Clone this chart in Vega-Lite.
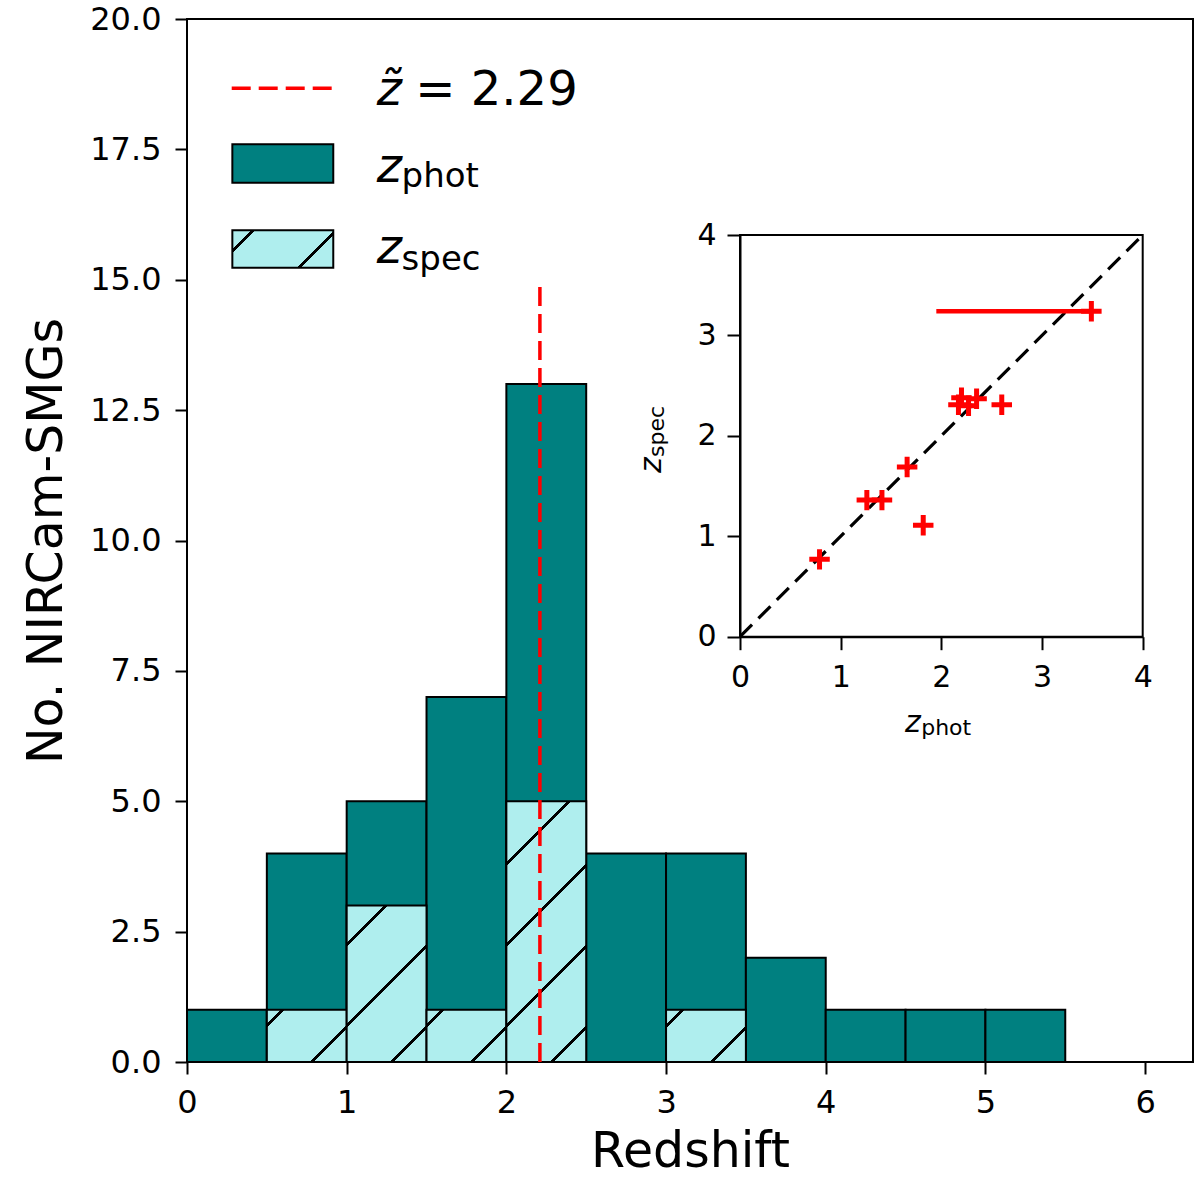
{
  "$schema": "https://vega.github.io/schema/vega-lite/v6.json",
  "autosize": "none",
  "width": 1006,
  "height": 1043,
  "padding": {"left": 187, "top": 19, "right": 7, "bottom": 126},
  "background": "white",
  "config": {
    "font": "DejaVu Sans",
    "view": {"stroke": "black", "strokeWidth": 2},
    "axis": {
      "labelFont": "DejaVu Sans",
      "labelColor": "black",
      "labelFlush": false,
      "labelOverlap": false,
      "tickColor": "black",
      "tickWidth": 2,
      "domainColor": "black",
      "domainWidth": 2,
      "grid": false,
      "titleFont": "DejaVu Sans",
      "titleFontWeight": "normal",
      "titleColor": "black"
    }
  },
  "datasets": {
    "hist": [
      {"lo": 0.0, "hi": 0.5, "phot": 1, "spec": 0},
      {"lo": 0.5, "hi": 1.0, "phot": 4, "spec": 1},
      {"lo": 1.0, "hi": 1.5, "phot": 5, "spec": 3},
      {"lo": 1.5, "hi": 2.0, "phot": 7, "spec": 1},
      {"lo": 2.0, "hi": 2.5, "phot": 13, "spec": 5},
      {"lo": 2.5, "hi": 3.0, "phot": 4, "spec": 0},
      {"lo": 3.0, "hi": 3.5, "phot": 4, "spec": 1},
      {"lo": 3.5, "hi": 4.0, "phot": 2, "spec": 0},
      {"lo": 4.0, "hi": 4.5, "phot": 1, "spec": 0},
      {"lo": 4.5, "hi": 5.0, "phot": 1, "spec": 0},
      {"lo": 5.0, "hi": 5.5, "phot": 1, "spec": 0},
      {"lo": 5.5, "hi": 6.0, "phot": 0, "spec": 0}
    ],
    "zz": [
      {"zphot": 0.79, "zspec": 0.77},
      {"zphot": 1.26, "zspec": 1.36},
      {"zphot": 1.41, "zspec": 1.36},
      {"zphot": 1.66, "zspec": 1.69},
      {"zphot": 1.82, "zspec": 1.11},
      {"zphot": 2.17, "zspec": 2.31},
      {"zphot": 2.20, "zspec": 2.38},
      {"zphot": 2.27, "zspec": 2.30},
      {"zphot": 2.35, "zspec": 2.37},
      {"zphot": 2.60, "zspec": 2.31},
      {"zphot": 3.49, "zspec": 3.24, "zlo": 1.95}
    ],
    "one": [{}]
  },
  "layer": [
    {
      "layer": [
        {
          "data": {"name": "hist"},
          "mark": {"type": "rect", "fill": "#008080", "stroke": "black", "strokeWidth": 2},
          "encoding": {
            "x": {
              "field": "lo", "type": "quantitative",
              "scale": {"domain": [0, 6.3], "nice": false, "zero": false},
              "axis": {
                "values": [0, 1, 2, 3, 4, 5, 6], "format": "d",
                "labelFontSize": 32, "tickSize": 12, "labelPadding": 13, "domain": false,
                "title": "Redshift", "titleFontSize": 49, "titlePadding": 9
              }
            },
            "x2": {"field": "hi"},
            "y": {
              "field": "phot", "type": "quantitative",
              "scale": {"domain": [0, 20], "nice": false},
              "axis": {
                "values": [0, 2.5, 5, 7.5, 10, 12.5, 15, 17.5, 20], "format": ".1f",
                "labelFontSize": 32, "tickSize": 12, "labelPadding": 14, "domain": false,
                "title": "No. NIRCam-SMGs", "titleFontSize": 49, "titlePadding": 18
              }
            },
            "y2": {"datum": 0}
          }
        },
        {
          "data": {"name": "hist"},
          "transform": [{"filter": "datum.spec > 0"}],
          "mark": {"type": "rect", "stroke": "black", "strokeWidth": 2},
          "encoding": {
            "x": {"field": "lo", "type": "quantitative"},
            "x2": {"field": "hi"},
            "y": {"field": "spec", "type": "quantitative"},
            "y2": {"datum": 0},
            "fill": {
              "condition": [
                {
                  "test": "datum.spec == 3",
                  "value": {
                    "gradient": "linear", "x1": 0, "y1": 0, "x2": 0.6116, "y2": 1.1982,
                    "stops": [
                      {"offset": 0, "color": "#afeeee"},
                      {"offset": 0.1584, "color": "#afeeee"},
                      {"offset": 0.1584, "color": "#000000"},
                      {"offset": 0.1754, "color": "#000000"},
                      {"offset": 0.1754, "color": "#afeeee"},
                      {"offset": 0.5012, "color": "#afeeee"},
                      {"offset": 0.5012, "color": "#000000"},
                      {"offset": 0.5182, "color": "#000000"},
                      {"offset": 0.5182, "color": "#afeeee"},
                      {"offset": 0.8440, "color": "#afeeee"},
                      {"offset": 0.8440, "color": "#000000"},
                      {"offset": 0.8610, "color": "#000000"},
                      {"offset": 0.8610, "color": "#afeeee"},
                      {"offset": 1, "color": "#afeeee"}
                    ]
                  }
                },
                {
                  "test": "datum.spec == 5",
                  "value": {
                    "gradient": "linear", "x1": 0, "y1": 0, "x2": 0.3657, "y2": 1.1942,
                    "stops": [
                      {"offset": 0, "color": "#afeeee"},
                      {"offset": 0.1784, "color": "#afeeee"},
                      {"offset": 0.1784, "color": "#000000"},
                      {"offset": 0.1902, "color": "#000000"},
                      {"offset": 0.1902, "color": "#afeeee"},
                      {"offset": 0.4161, "color": "#afeeee"},
                      {"offset": 0.4161, "color": "#000000"},
                      {"offset": 0.4279, "color": "#000000"},
                      {"offset": 0.4279, "color": "#afeeee"},
                      {"offset": 0.6542, "color": "#afeeee"},
                      {"offset": 0.6542, "color": "#000000"},
                      {"offset": 0.6660, "color": "#000000"},
                      {"offset": 0.6660, "color": "#afeeee"},
                      {"offset": 0.8920, "color": "#afeeee"},
                      {"offset": 0.8920, "color": "#000000"},
                      {"offset": 0.9038, "color": "#000000"},
                      {"offset": 0.9038, "color": "#afeeee"},
                      {"offset": 1, "color": "#afeeee"}
                    ]
                  }
                }
              ],
              "value": {
                "gradient": "linear", "x1": 0, "y1": 0, "x2": 1.1588, "y2": 0.7568,
                "stops": [
                  {"offset": 0, "color": "#afeeee"},
                  {"offset": 0.1072, "color": "#afeeee"},
                  {"offset": 0.1072, "color": "#000000"},
                  {"offset": 0.1375, "color": "#000000"},
                  {"offset": 0.1375, "color": "#afeeee"},
                  {"offset": 0.7209, "color": "#afeeee"},
                  {"offset": 0.7209, "color": "#000000"},
                  {"offset": 0.7512, "color": "#000000"},
                  {"offset": 0.7512, "color": "#afeeee"},
                  {"offset": 1, "color": "#afeeee"}
                ]
              }
            }
          }
        },
        {
          "data": {"name": "one"},
          "mark": {"type": "rule", "color": "red", "strokeWidth": 3.5, "strokeDash": [19, 8]},
          "encoding": {
            "x": {"datum": 2.21},
            "y": {"datum": 0},
            "y2": {"datum": 15}
          }
        },
        {
          "data": {"name": "one"},
          "mark": {"type": "rule", "color": "red", "strokeWidth": 3.5, "strokeDash": [19, 8]},
          "encoding": {
            "x": {"datum": 0.28},
            "x2": {"datum": 0.906},
            "y": {"datum": 18.67}
          }
        },
        {
          "data": {"name": "one"},
          "mark": {"type": "rect", "fill": "#008080", "stroke": "black", "strokeWidth": 2},
          "encoding": {
            "x": {"datum": 0.284},
            "x2": {"datum": 0.916},
            "y": {"datum": 17.6},
            "y2": {"datum": 16.86}
          }
        },
        {
          "data": {"name": "one"},
          "mark": {
            "type": "rect", "stroke": "black", "strokeWidth": 2,
            "fill": {
              "gradient": "linear", "x1": 0, "y1": 0, "x2": 1.2054, "y2": 0.4499,
              "stops": [
                {"offset": 0, "color": "#afeeee"},
                {"offset": 0.1370, "color": "#afeeee"},
                {"offset": 0.1370, "color": "#000000"},
                {"offset": 0.1658, "color": "#000000"},
                {"offset": 0.1658, "color": "#afeeee"},
                {"offset": 0.7333, "color": "#afeeee"},
                {"offset": 0.7333, "color": "#000000"},
                {"offset": 0.7621, "color": "#000000"},
                {"offset": 0.7621, "color": "#afeeee"},
                {"offset": 1, "color": "#afeeee"}
              ]
            }
          },
          "encoding": {
            "x": {"datum": 0.284},
            "x2": {"datum": 0.916},
            "y": {"datum": 15.95},
            "y2": {"datum": 15.23}
          }
        },
        {
          "data": {"name": "one"},
          "mark": {"type": "text", "text": "z\u0303", "fontStyle": "italic", "fontSize": 48, "align": "left", "baseline": "alphabetic", "color": "black"},
          "encoding": {"x": {"datum": 1.188}, "y": {"datum": 18.35}}
        },
        {
          "data": {"name": "one"},
          "mark": {"type": "text", "text": "= 2.29", "fontSize": 48, "align": "left", "baseline": "alphabetic", "color": "black"},
          "encoding": {"x": {"datum": 1.43}, "y": {"datum": 18.35}}
        },
        {
          "data": {"name": "one"},
          "mark": {"type": "text", "text": "z", "fontStyle": "italic", "fontSize": 48, "align": "left", "baseline": "alphabetic", "color": "black"},
          "encoding": {"x": {"datum": 1.188}, "y": {"datum": 16.88}}
        },
        {
          "data": {"name": "one"},
          "mark": {"type": "text", "text": "phot", "fontSize": 34, "align": "left", "baseline": "alphabetic", "color": "black"},
          "encoding": {"x": {"datum": 1.344}, "y": {"datum": 16.78}}
        },
        {
          "data": {"name": "one"},
          "mark": {"type": "text", "text": "z", "fontStyle": "italic", "fontSize": 48, "align": "left", "baseline": "alphabetic", "color": "black"},
          "encoding": {"x": {"datum": 1.188}, "y": {"datum": 15.32}}
        },
        {
          "data": {"name": "one"},
          "mark": {"type": "text", "text": "spec", "fontSize": 34, "align": "left", "baseline": "alphabetic", "color": "black"},
          "encoding": {"x": {"datum": 1.344}, "y": {"datum": 15.19}}
        }
      ]
    },
    {
      "layer": [
        {
          "data": {"name": "one"},
          "mark": {"type": "rect", "fill": "white", "stroke": "black", "strokeWidth": 2},
          "encoding": {
            "x": {
              "datum": 0, "type": "quantitative",
              "scale": {"domain": [0, 4], "range": [553, 955.7], "nice": false, "zero": false},
              "axis": {
                "orient": "bottom", "offset": -425.3, "values": [0, 1, 2, 3, 4], "format": "d",
                "labelFontSize": 30, "tickSize": 13, "labelPadding": 13, "title": null, "zindex": 1
              }
            },
            "x2": {"datum": 4},
            "y": {
              "datum": 0, "type": "quantitative",
              "scale": {"domain": [0, 4], "range": [617.7, 216], "nice": false, "zero": false},
              "axis": {
                "orient": "left", "offset": -553, "values": [0, 1, 2, 3, 4], "format": "d",
                "labelFontSize": 30, "tickSize": 13, "labelPadding": 11, "title": null, "zindex": 1
              }
            },
            "y2": {"datum": 4}
          }
        },
        {
          "data": {"name": "one"},
          "mark": {"type": "rule", "color": "black", "strokeWidth": 3.2, "strokeDash": [17, 9]},
          "encoding": {
            "x": {"datum": 0},
            "x2": {"datum": 4},
            "y": {"datum": 0},
            "y2": {"datum": 4}
          }
        },
        {
          "data": {"name": "zz"},
          "transform": [{"filter": "isValid(datum.zlo)"}],
          "mark": {"type": "rule", "color": "red", "strokeWidth": 4.5},
          "encoding": {
            "x": {"field": "zlo", "type": "quantitative"},
            "x2": {"field": "zphot"},
            "y": {"field": "zspec", "type": "quantitative"}
          }
        },
        {
          "data": {"name": "zz"},
          "mark": {"type": "point", "shape": "M-1,0H1M0,-1V1", "filled": false, "stroke": "red", "strokeWidth": 5, "size": 420, "opacity": 1},
          "encoding": {
            "x": {"field": "zphot", "type": "quantitative"},
            "y": {"field": "zspec", "type": "quantitative"}
          }
        },
        {
          "data": {"name": "one"},
          "mark": {"type": "text", "text": "z", "fontStyle": "italic", "fontSize": 30, "align": "left", "baseline": "alphabetic", "color": "black"},
          "encoding": {"x": {"datum": 1.64}, "y": {"datum": -0.946}}
        },
        {
          "data": {"name": "one"},
          "mark": {"type": "text", "text": "phot", "fontSize": 22, "align": "left", "baseline": "alphabetic", "color": "black"},
          "encoding": {"x": {"datum": 1.80}, "y": {"datum": -0.979}}
        },
        {
          "data": {"name": "one"},
          "mark": {"type": "text", "text": "z", "fontStyle": "italic", "fontSize": 30, "angle": 270, "align": "left", "baseline": "alphabetic", "color": "black"},
          "encoding": {"x": {"datum": -0.78}, "y": {"datum": 1.63}}
        },
        {
          "data": {"name": "one"},
          "mark": {"type": "text", "text": "spec", "fontSize": 22, "angle": 270, "align": "left", "baseline": "alphabetic", "color": "black"},
          "encoding": {"x": {"datum": -0.75}, "y": {"datum": 1.79}}
        }
      ]
    }
  ],
  "resolve": {"scale": {"x": "independent", "y": "independent"}}
}
